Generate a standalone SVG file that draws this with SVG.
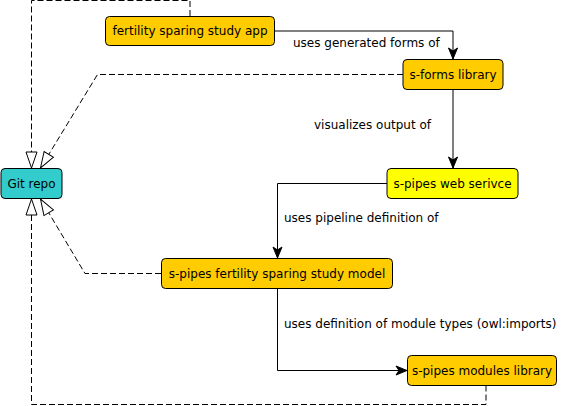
<svg xmlns="http://www.w3.org/2000/svg" width="563" height="406" viewBox="0 0 563 406">
<style>
  .node rect { stroke: #000; stroke-width: 1; }
  .node text { font-family: "DejaVu Sans", sans-serif; font-size: 12px; fill: #000; text-anchor: middle; }
  .lbl { font-family: "DejaVu Sans", sans-serif; font-size: 12px; fill: #000; }
  .solid { fill: none; stroke: #000; stroke-width: 1; marker-end: url(#arrow); }
  .dash { fill: none; stroke: #000; stroke-width: 1; stroke-dasharray: 6 3; marker-end: url(#hollow); }
</style>
<defs>
  <marker id="arrow" markerUnits="userSpaceOnUse" markerWidth="12" markerHeight="10" refX="11" refY="5" orient="auto" overflow="visible">
    <path d="M0,0.5 L11,5 L0,9.5 L3,5 Z" fill="#000" stroke="#000" stroke-width="1"/>
  </marker>
  <marker id="hollow" markerUnits="userSpaceOnUse" markerWidth="17" markerHeight="12" refX="16" refY="6" orient="auto" overflow="visible">
    <path d="M0,0.5 L16,6 L0,11.5 Z" fill="#fff" stroke="#000" stroke-width="1"/>
  </marker>
</defs>
<rect width="563" height="406" fill="#fff"/>
<g id="connectors">
  <path class="solid" d="M275,31 H453 V59"/>
  <text class="lbl" x="293" y="47">uses generated forms of</text>
  <path class="solid" d="M453,89.5 V168"/>
  <text class="lbl" x="314" y="129">visualizes output of</text>
  <path class="solid" d="M387,183.5 H277.5 V258"/>
  <text class="lbl" x="284" y="222">uses pipeline definition of</text>
  <path class="solid" d="M277.5,288.5 V370.5 H407"/>
  <text class="lbl" x="284" y="328">uses definition of module types (owl:imports)</text>
  <path class="dash" d="M190,16 V0.5 H31.5 V168"/>
  <path class="dash" d="M403,74.5 H97.5 L40.5,168"/>
  <path class="dash" d="M161,273.5 H85 L40.5,199"/>
  <path class="dash" d="M486,385.5 V404.5 H31.5 V199"/>
</g>
<g id="node-app" class="node">
  <rect x="105.5" y="16.5" width="169" height="29" rx="4" fill="#FFCC00"/>
  <text x="190" y="35">fertility sparing study app</text>
</g>
<g id="node-sforms" class="node">
  <rect x="403" y="59.5" width="100" height="30" rx="4" fill="#FFCC00"/>
  <text x="453" y="78.5">s-forms library</text>
</g>
<g id="node-git" class="node">
  <rect x="1" y="168.5" width="61" height="30" rx="4" fill="#33CCCC"/>
  <text x="31.5" y="187.5">Git repo</text>
</g>
<g id="node-web" class="node">
  <rect x="387" y="168.5" width="131" height="30" rx="4" fill="#FFFF00"/>
  <text x="452.5" y="187.5">s-pipes web serivce</text>
</g>
<g id="node-model" class="node">
  <rect x="161.5" y="258.5" width="231" height="30" rx="4" fill="#FFCC00"/>
  <text x="277" y="277.5">s-pipes fertility sparing study model</text>
</g>
<g id="node-modules" class="node">
  <rect x="407.5" y="355.5" width="149" height="30" rx="4" fill="#FFCC00"/>
  <text x="482" y="374.5">s-pipes modules library</text>
</g>
</svg>
